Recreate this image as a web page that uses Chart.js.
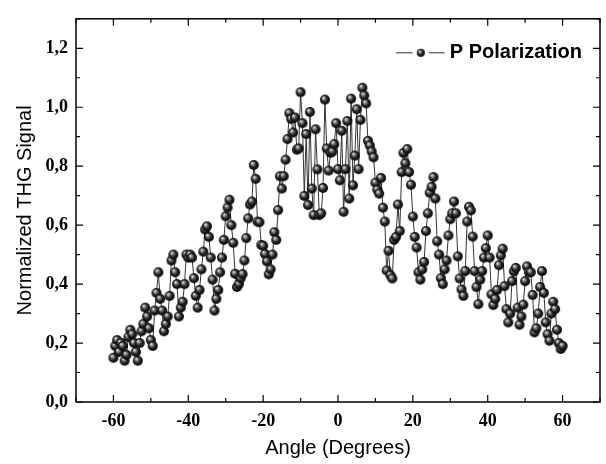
<!DOCTYPE html>
<html>
<head>
<meta charset="utf-8">
<script src="https://cdn.jsdelivr.net/npm/chart.js@4.4.0/dist/chart.umd.min.js"></script>
<style>
  html, body { margin: 0; padding: 0; background: #fff; }
</style>
</head>
<body>
<canvas id="thgChart" width="606" height="464"></canvas>
<script>
// angle of incidence (degrees)
const angles = [
  -60, -59.5, -59, -58.5, -58, -57.5, -57, -56.5, -56, -55.5, -55, -54.5, -54, -53.5, -53, -52.5, -52, -51.5, -51, -50.5,
  -50, -49.5, -49, -48.5, -48, -47.5, -47, -46.5, -46, -45.5, -45, -44.5, -44, -43.5, -43, -42.5, -42, -41.5, -41, -40.5,
  -40, -39.5, -39, -38.5, -38, -37.5, -37, -36.5, -36, -35.5, -35, -34.5, -34, -33.5, -33, -32.5, -32, -31.5, -31, -30.5,
  -30, -29.5, -29, -28.5, -28, -27.5, -27, -26.5, -26, -25.5, -25, -24.5, -24, -23.5, -23, -22.5, -22, -21.5, -21, -20.5,
  -20, -19.5, -19, -18.5, -18, -17.5, -17, -16.5, -16, -15.5, -15, -14.5, -14, -13.5, -13, -12.5, -12, -11.5, -11, -10.5,
  -10, -9.5, -9, -8.5, -8, -7.5, -7, -6.5, -6, -5.5, -5, -4.5, -4, -3.5, -3, -2.5, -2, -1.5, -1, -0.5,
  0, 0.5, 1, 1.5, 2, 2.5, 3, 3.5, 4, 4.5, 5, 5.5, 6, 6.5, 7, 7.5, 8, 8.5, 9, 9.5,
  10, 10.5, 11, 11.5, 12, 12.5, 13, 13.5, 14, 14.5, 15, 15.5, 16, 16.5, 17, 17.5, 18, 18.5, 19, 19.5,
  20, 20.5, 21, 21.5, 22, 22.5, 23, 23.5, 24, 24.5, 25, 25.5, 26, 26.5, 27, 27.5, 28, 28.5, 29, 29.5,
  30, 30.5, 31, 31.5, 32, 32.5, 33, 33.5, 34, 34.5, 35, 35.5, 36, 36.5, 37, 37.5, 38, 38.5, 39, 39.5,
  40, 40.5, 41, 41.5, 42, 42.5, 43, 43.5, 44, 44.5, 45, 45.5, 46, 46.5, 47, 47.5, 48, 48.5, 49, 49.5,
  50, 50.5, 51, 51.5, 52, 52.5, 53, 53.5, 54, 54.5, 55, 55.5, 56, 56.5, 57, 57.5, 58, 58.5, 59, 59.5,
  60
];

// normalized THG signal, P polarization
const signal = [
  0.15, 0.19, 0.21, 0.17, 0.20, 0.19, 0.14, 0.16, 0.22, 0.245, 0.23, 0.20, 0.17, 0.14, 0.20, 0.24, 0.265, 0.32, 0.29, 0.25,
  0.21, 0.19, 0.31, 0.37, 0.44, 0.35, 0.31, 0.24, 0.265, 0.29, 0.36, 0.48, 0.50, 0.44, 0.40, 0.29, 0.32, 0.34, 0.40, 0.50,
  0.49, 0.50, 0.49, 0.42, 0.36, 0.32, 0.38, 0.45, 0.51, 0.585, 0.596, 0.56, 0.49, 0.415, 0.31, 0.35, 0.38, 0.44, 0.49, 0.55,
  0.63, 0.66, 0.686, 0.60, 0.54, 0.435, 0.39, 0.40, 0.42, 0.434, 0.48, 0.556, 0.623, 0.67, 0.68, 0.804, 0.757, 0.612, 0.61, 0.533,
  0.53, 0.502, 0.477, 0.433, 0.45, 0.50, 0.576, 0.55, 0.651, 0.766, 0.724, 0.766, 0.822, 0.892, 0.98, 0.96, 0.914, 0.965, 0.856, 0.86,
  1.051, 0.946, 0.699, 0.909, 0.668, 0.984, 0.724, 0.634, 0.925, 0.789, 0.634, 0.64, 0.726, 1.026, 0.86, 0.785, 0.845, 0.85, 0.875, 0.946,
  0.79, 0.752, 0.92, 0.645, 0.79, 0.953, 0.69, 1.029, 0.735, 0.836, 0.993, 0.79, 0.957, 1.066, 1.04, 1.013, 0.886, 0.87, 0.85, 0.83,
  0.744, 0.72, 0.707, 0.76, 0.659, 0.612, 0.446, 0.513, 0.43, 0.419, 0.55, 0.56, 0.67, 0.58, 0.78, 0.845, 0.81, 0.858, 0.78, 0.737,
  0.629, 0.56, 0.524, 0.44, 0.415, 0.45, 0.475, 0.58, 0.64, 0.71, 0.73, 0.763, 0.69, 0.545, 0.50, 0.42, 0.40, 0.45, 0.48, 0.565,
  0.62, 0.64, 0.68, 0.64, 0.494, 0.419, 0.382, 0.36, 0.444, 0.612, 0.662, 0.65, 0.561, 0.444, 0.39, 0.332, 0.415, 0.444, 0.49, 0.522,
  0.565, 0.49, 0.365, 0.329, 0.35, 0.38, 0.464, 0.497, 0.52, 0.393, 0.315, 0.27, 0.30, 0.41, 0.443, 0.455, 0.32, 0.262, 0.29, 0.33,
  0.41, 0.46, 0.44, 0.44, 0.363, 0.236, 0.25, 0.30, 0.39, 0.444, 0.37, 0.27, 0.23, 0.208, 0.30, 0.34, 0.315, 0.245, 0.20, 0.18,
  0.19
];

const xTicks = [-60, -40, -20, 0, 20, 40, 60];
const yTicks = [0, 0.2, 0.4, 0.6, 0.8, 1.0, 1.2];
const seriesLabel = 'P Polarization';

// shaded black ball used as the marker
function makeBall(r) {
  const d = Math.ceil(r * 2) + 2;
  const c = document.createElement('canvas');
  c.width = d; c.height = d;
  const g = c.getContext('2d');
  const cx = d / 2, cy = d / 2;
  const grad = g.createRadialGradient(cx - r * 0.35, cy - r * 0.4, r * 0.05, cx, cy, r);
  grad.addColorStop(0, '#f2f2f2');
  grad.addColorStop(0.25, '#8a8a8a');
  grad.addColorStop(0.6, '#232323');
  grad.addColorStop(1, '#050505');
  g.fillStyle = grad;
  g.beginPath();
  g.arc(cx, cy, r, 0, Math.PI * 2);
  g.fill();
  return c;
}

const ball = makeBall(5);
const legendBall = makeBall(4);

// box frame, inward ticks on all four sides, and the legend
const framePlugin = {
  id: 'frame',
  afterDraw(chart) {
    const { ctx, chartArea: a, scales: { x, y } } = chart;
    ctx.save();
    ctx.strokeStyle = '#000';
    ctx.lineWidth = 1.5;
    ctx.strokeRect(a.left, a.top, a.right - a.left, a.bottom - a.top);

    ctx.lineWidth = 1.2;
    ctx.beginPath();
    for (let v = -70; v <= 70; v += 10) {
      const px = x.getPixelForValue(v);
      const len = xTicks.includes(v) ? 7 : 4;
      ctx.moveTo(px, a.bottom); ctx.lineTo(px, a.bottom - len);
      ctx.moveTo(px, a.top); ctx.lineTo(px, a.top + len);
    }
    for (let i = 0; i <= 13; i++) {
      const v = i / 10;
      const py = y.getPixelForValue(v);
      const len = i % 2 === 0 ? 7 : 4;
      ctx.moveTo(a.left, py); ctx.lineTo(a.left + len, py);
      ctx.moveTo(a.right, py); ctx.lineTo(a.right - len, py);
    }
    ctx.stroke();

    // legend
    ctx.font = 'bold 20px "Liberation Sans", Arial, sans-serif';
    ctx.fillStyle = '#000';
    ctx.textBaseline = 'middle';
    const tw = ctx.measureText(seriesLabel).width;
    const tx = a.right - 18 - tw;
    const ty = a.top + 34;
    ctx.fillText(seriesLabel, tx, ty);
    ctx.strokeStyle = '#333';
    ctx.lineWidth = 1;
    ctx.beginPath();
    ctx.moveTo(tx - 54, ty); ctx.lineTo(tx - 37, ty);
    ctx.moveTo(tx - 21, ty); ctx.lineTo(tx - 5, ty);
    ctx.stroke();
    ctx.drawImage(legendBall, tx - 29 - legendBall.width / 2, ty - legendBall.height / 2);
    ctx.restore();
  }
};

const tickFont = { family: '"Liberation Serif", "Times New Roman", serif', size: 18, weight: 'bold' };
const titleFont = { family: '"Liberation Sans", Arial, sans-serif', size: 20 };

new Chart(document.getElementById('thgChart'), {
  type: 'scatter',
  data: {
    datasets: [{
      label: seriesLabel,
      data: angles.map((a, i) => ({ x: a, y: signal[i] })),
      showLine: true,
      borderColor: '#333',
      borderWidth: 1,
      pointStyle: ball,
      pointRadius: 5,
      pointHoverRadius: 5
    }]
  },
  options: {
    responsive: false,
    animation: false,
    devicePixelRatio: 1,
    layout: { padding: { left: 0, right: 6, top: 15, bottom: 0 } },
    plugins: { legend: { display: false }, tooltip: { enabled: false } },
    scales: {
      x: {
        type: 'linear',
        min: -70,
        max: 70,
        afterBuildTicks: s => { s.ticks = xTicks.map(v => ({ value: v })); },
        afterFit: s => { s.height = 62; },
        grid: { display: false, drawTicks: false },
        border: { display: false },
        ticks: { font: tickFont, color: '#000', padding: 9, maxRotation: 0 },
        title: { display: true, text: 'Angle (Degrees)', font: titleFont, color: '#000', padding: { top: 0, bottom: 4 } }
      },
      y: {
        type: 'linear',
        min: 0,
        max: 1.3,
        afterBuildTicks: s => { s.ticks = yTicks.map(v => ({ value: v })); },
        afterFit: s => { s.width = 76; },
        grid: { display: false, drawTicks: false },
        border: { display: false },
        ticks: { font: tickFont, color: '#000', padding: 8, callback: v => v.toFixed(1).replace('.', ',') },
        title: { display: true, text: 'Normalized THG Signal', font: titleFont, color: '#000', padding: { top: 13, bottom: 0 } }
      }
    }
  },
  plugins: [framePlugin]
});
</script>
</body>
</html>
